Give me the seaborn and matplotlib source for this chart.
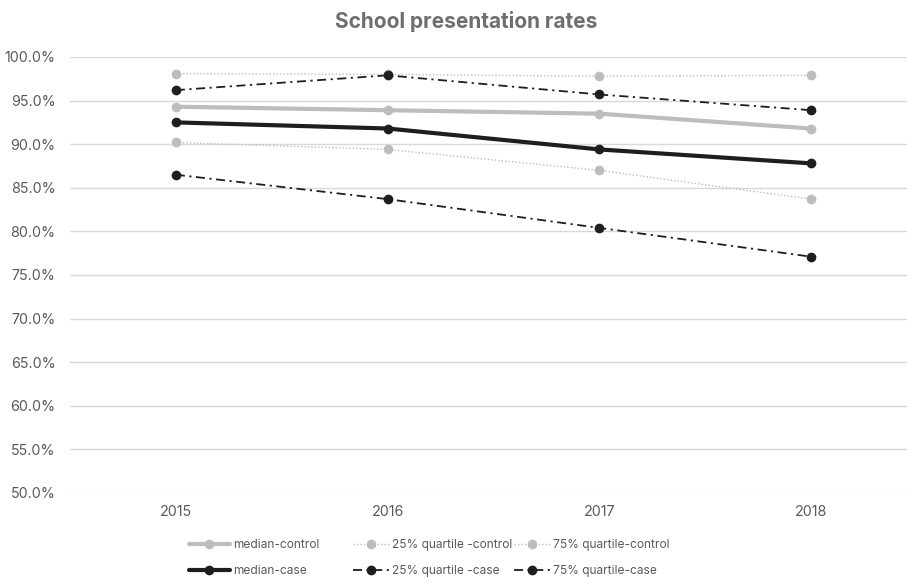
import matplotlib
matplotlib.use("Agg")
import matplotlib.pyplot as plt
from matplotlib.ticker import PercentFormatter, MultipleLocator
import seaborn as sns
import pandas as pd

years = ["2015", "2016", "2017", "2018"]
median_control = [0.943, 0.939, 0.935, 0.918]
q25_control = [0.902, 0.894, 0.870, 0.837]
q75_control = [0.981, 0.980, 0.978, 0.979]
median_case = [0.925, 0.918, 0.894, 0.878]
q25_case = [0.865, 0.837, 0.804, 0.771]
q75_case = [0.962, 0.979, 0.957, 0.939]

series_names = [
    "median-control", "25% quartile -control", "75% quartile-control",
    "median-case", "25% quartile -case", "75% quartile-case",
]
series_values = [median_control, q25_control, q75_control,
                 median_case, q25_case, q75_case]

GRAY = "#BDBDBD"
BLACK = "#1E1E1E"
TEXT = "#595959"
TITLE = "#6E6E6E"
DASHDOT = (0, (5, 2.5, 1.2, 2.5))
styles = {
    "median-control": dict(color=GRAY, linestyle="-", linewidth=3.0, markersize=7),
    "25% quartile -control": dict(color=GRAY, linestyle=(0, (1, 1.5)), linewidth=1.0, markersize=7),
    "75% quartile-control": dict(color=GRAY, linestyle=(0, (1, 1.5)), linewidth=1.0, markersize=7),
    "median-case": dict(color=BLACK, linestyle="-", linewidth=3.0, markersize=7),
    "25% quartile -case": dict(color=BLACK, linestyle=DASHDOT, linewidth=1.3, markersize=7),
    "75% quartile-case": dict(color=BLACK, linestyle=DASHDOT, linewidth=1.3, markersize=7),
}

df = pd.DataFrame(
    [(name, i, v) for name, vals in zip(series_names, series_values)
     for i, v in enumerate(vals)],
    columns=["series", "pos", "rate"],
)

sns.set_theme(style="white")
plt.rcParams["font.family"] = ["Inter", "DejaVu Sans"]

W, H = 907, 577
fig = plt.figure(figsize=(W / 100, H / 100), dpi=100)
left, right, top, bottom = 70, 917, 57, 493
ax = fig.add_axes([left / W, 1 - bottom / H, (right - left) / W, (bottom - top) / H])

handles = {}
for name in series_names:
    st = styles[name]
    sub = df[df["series"] == name]
    sns.lineplot(data=sub, x="pos", y="rate", ax=ax, color=st["color"],
                 linestyle=st["linestyle"], linewidth=st["linewidth"],
                 marker="o", markersize=st["markersize"], markeredgewidth=0,
                 label=name, legend=False, zorder=3)
    handles[name] = ax.lines[-1]

ax.set_xlim(-0.5, len(years) - 0.5)
ax.set_ylim(0.5, 1.0)
ax.set_xticks(range(len(years)))
ax.set_xticklabels(years)
ax.yaxis.set_major_locator(MultipleLocator(0.05))
ax.yaxis.set_major_formatter(PercentFormatter(1.0, decimals=1))
ax.grid(axis="y", color="#D9D9D9", linewidth=1.0)
ax.grid(axis="x", visible=False)
for s in ax.spines.values():
    s.set_visible(False)
ax.tick_params(axis="both", length=0, labelsize=10.3, labelcolor=TEXT)
ax.tick_params(axis="y", pad=10.5)
ax.tick_params(axis="x", pad=9)
ax.set_xlabel("")
ax.set_ylabel("")

fig.text(466 / W, 1 - 22 / H, "School presentation rates", ha="center", va="center",
         fontsize=15, fontweight="bold", color=TITLE)

# legend: three columns, control row above case row
columns = [
    (["median-control", "median-case"], 189, 3.4),
    (["25% quartile -control", "25% quartile -case"], 353, 3.0),
    (["75% quartile-control", "75% quartile-case"], 514, 3.0),
]
for names, x0, hl in columns:
    leg = fig.legend([handles[n] for n in names], names,
                     loc="upper left", bbox_to_anchor=(x0 / W, 1 - 539 / H),
                     frameon=False, fontsize=8.6, labelcolor=TEXT,
                     handlelength=hl, handletextpad=0.3, labelspacing=1.15,
                     borderaxespad=0, borderpad=0)
    for h in leg.legend_handles:
        h.set_markersize(7)

fig.savefig("out.png", dpi=100)
